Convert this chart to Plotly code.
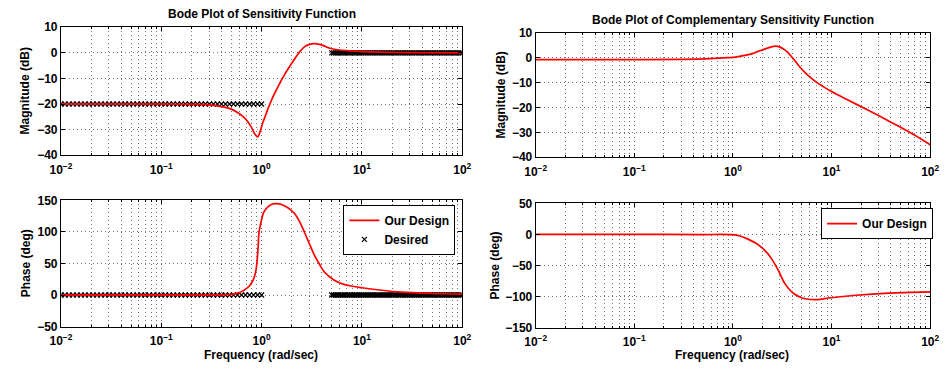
import numpy as np
import plotly.graph_objects as go

# ---------------- data ----------------
# Sensitivity function S: magnitude (dB)
s_mag_w = [0.01, 0.05, 0.1, 0.2, 0.3, 0.4, 0.5, 0.57, 0.65, 0.72, 0.79, 0.85, 0.914,
           0.965, 1.03, 1.09, 1.15, 1.22, 1.29, 1.37, 1.53, 1.71, 1.92, 2.15, 2.4,
           2.69, 3.0, 3.36, 3.8, 4.2, 4.7, 5.7, 8.3, 10, 15, 30, 100]
s_mag_db = [-20, -20, -20.05, -20.15, -20.3, -21.0, -22.0, -23.2, -24.8, -26.6, -29.0,
            -31.5, -32.8, -30.8, -27.2, -24.7, -22.1, -19.7, -17.4, -15.3, -11.6,
            -8.2, -5.1, -2.2, 0.4, 2.4, 3.3, 3.6, 3.3, 2.7, 1.9, 1.2, 0.7, 0.5, 0.25,
            0.1, 0.0]

# Sensitivity function S: phase (deg)
s_ph_w = [0.01, 0.1, 0.3, 0.45, 0.52, 0.6, 0.65, 0.7, 0.75, 0.8, 0.84, 0.88, 0.905,
          0.925, 0.94, 0.96, 0.98, 1.01, 1.05, 1.1, 1.18, 1.27, 1.37, 1.5, 1.72, 1.92,
          2.14, 2.4, 2.7, 3.0, 3.37, 3.8, 4.2, 5.26, 6.6, 8.0, 10, 15, 25, 50, 100]
s_ph_deg = [0, 0, 0.2, 0.8, 1.5, 3.8, 6.6, 9.8, 14, 20, 27, 40, 57, 78, 98, 107, 113,
            123, 131, 136, 141, 144, 145, 144.5, 141, 136, 129, 116, 98, 81, 63, 48,
            37, 24, 17, 14, 11.6, 8, 4.5, 2.5, 1.5]

# Complementary sensitivity T: magnitude (dB)
t_mag_w = [0.01, 0.1, 0.3, 0.6, 0.8, 1.0, 1.2, 1.4, 1.6, 1.8, 2.0, 2.2, 2.4, 2.6,
           2.72, 2.85, 3.0, 3.3, 3.56, 4.0, 4.4, 4.82, 5.5, 6.2, 7.06, 8.4, 10, 15,
           22, 33, 47, 70, 100]
t_mag_db = [-0.7, -0.7, -0.6, -0.3, 0.0, 0.2, 0.7, 1.2, 1.8, 2.6, 3.2, 3.8, 4.3,
            4.62, 4.7, 4.6, 4.3, 3.4, 2.36, 0.1, -1.9, -3.9, -6.3, -8.1, -9.9,
            -11.8, -13.6, -17.2, -20.5, -24.1, -27.4, -31.2, -35.0]

# Complementary sensitivity T: phase (deg)
t_ph_w = [0.01, 0.1, 0.5, 0.98, 1.2, 1.44, 1.7, 1.95, 2.2, 2.46, 2.87, 3.33, 3.8,
          4.2, 4.9, 5.6, 7.1, 9.8, 17.7, 38, 100]
t_ph_deg = [0, 0, -0.2, -0.5, -3, -8, -14, -21, -29, -39, -57, -78, -90, -96,
            -101.5, -104, -105, -102, -98, -94.6, -92.5]

# Desired specification (frequency grids and target levels)
des_low_w = list(np.logspace(-2, 0, 51))
des_high_w = list(np.logspace(np.log10(5), 2, 75))
des_low_mag = [-20] * len(des_low_w)
des_high_mag = [0] * len(des_high_w)
des_low_ph = [0] * len(des_low_w)
des_high_ph = [0] * len(des_high_w)

x_tickvals = [0.01, 0.1, 1, 10, 100]
x_ticktext = ["<b>10<sup>−2</sup></b>", "<b>10<sup>−1</sup></b>", "<b>10<sup>0</sup></b>",
              "<b>10<sup>1</sup></b>", "<b>10<sup>2</sup></b>"]
minor_vals = [m * d for d in [0.01, 0.1, 1, 10] for m in range(2, 10)]
mag_ticks = [-40, -30, -20, -10, 0, 10]
sph_ticks = [-50, 0, 50, 100, 150]
tph_ticks = [-150, -100, -50, 0, 50]

# ---------------- styling ----------------
FONT = "Liberation Sans"
RED = "#ff0000"
GRID = "rgba(0,0,0,0.55)"
DOT = "1px,3px"

def lab(v):
    return "<b>" + ("−" + str(-v) if v < 0 else str(v)) + "</b>"

fig = go.Figure()

def desired(x, y, axx, axy, show):
    fig.add_trace(go.Scatter(
        x=x, y=y, xaxis=axx, yaxis=axy, mode="markers", name="<b>Desired</b>",
        marker=dict(symbol="x-thin", size=5, color="black",
                    line=dict(width=1.2, color="black")),
        showlegend=show, legend="legend", legendrank=2))

LINE = dict(color=RED, width=1.7, shape="spline", smoothing=0.9)

# top-left magnitude S
desired(des_low_w, des_low_mag, "x", "y", False)
desired(des_high_w, des_high_mag, "x", "y", False)
fig.add_trace(go.Scatter(x=s_mag_w, y=s_mag_db, xaxis="x", yaxis="y", mode="lines",
                         line=LINE, showlegend=False))
# bottom-left phase S
desired(des_low_w, des_low_ph, "x2", "y2", True)
desired(des_high_w, des_high_ph, "x2", "y2", False)
fig.add_trace(go.Scatter(x=s_ph_w, y=s_ph_deg, xaxis="x2", yaxis="y2", mode="lines",
                         name="<b>Our Design</b>", line=LINE,
                         showlegend=True, legend="legend", legendrank=1))
# top-right magnitude T
fig.add_trace(go.Scatter(x=t_mag_w, y=t_mag_db, xaxis="x3", yaxis="y3", mode="lines",
                         line=LINE, showlegend=False))
# bottom-right phase T
fig.add_trace(go.Scatter(x=t_ph_w, y=t_ph_deg, xaxis="x4", yaxis="y4", mode="lines",
                         name="<b>Our Design</b>", line=LINE,
                         showlegend=True, legend="legend2"))

tickfont = dict(family=FONT, size=12, color="black")

def xaxis(domain, anchor):
    return dict(type="log", range=[-2, 2], domain=domain, anchor=anchor,
                tickmode="array", tickvals=x_tickvals, ticktext=x_ticktext,
                ticks="inside", ticklen=4, tickcolor="black", mirror="allticks",
                showline=True, linecolor="black", linewidth=1,
                showgrid=True, gridcolor=GRID, griddash=DOT, gridwidth=1,
                zeroline=False, tickfont=tickfont, ticklabelstandoff=3,
                minor=dict(tickmode="array", tickvals=minor_vals, ticks="inside",
                           ticklen=2, tickcolor="black", showgrid=True,
                           gridcolor=GRID, griddash=DOT, gridwidth=1))

def yaxis(domain, anchor, rng, ticks):
    return dict(range=rng, domain=domain, anchor=anchor,
                tickmode="array", tickvals=ticks, ticktext=[lab(v) for v in ticks],
                ticks="inside", ticklen=4, tickcolor="black", mirror="allticks",
                showline=True, linecolor="black", linewidth=1,
                showgrid=True, gridcolor=GRID, griddash=DOT, gridwidth=1,
                zeroline=False, tickfont=tickfont)

LX = [51 / 946, 461 / 946]
RX = [536 / 946, 939 / 946]
legfont = dict(family=FONT, size=12, color="black")
fig.update_layout(
    width=946, height=374,
    margin=dict(l=0, r=0, t=0, b=0),
    paper_bgcolor="white", plot_bgcolor="white",
    font=dict(family=FONT, size=12, color="black"),
    xaxis=xaxis(LX, "y"),
    yaxis=yaxis([1 - 154 / 374, 1 - 21 / 374], "x", [-40, 10], mag_ticks),
    xaxis2=xaxis(LX, "y2"),
    yaxis2=yaxis([1 - 332 / 374, 1 - 201 / 374], "x2", [-50, 150], sph_ticks),
    xaxis3=xaxis(RX, "y3"),
    yaxis3=yaxis([1 - 156 / 374, 1 - 27 / 374], "x3", [-40, 10], mag_ticks),
    xaxis4=xaxis(RX, "y4"),
    yaxis4=yaxis([1 - 333 / 374, 1 - 204 / 374], "x4", [-150, 50], tph_ticks),
    legend=dict(x=454 / 946, y=1 - 205.5 / 374, xanchor="right", yanchor="top",
                bgcolor="white", bordercolor="black", borderwidth=1,
                font=legfont, tracegroupgap=0, itemwidth=30),
    legend2=dict(x=942 / 946, y=1 - 209 / 374, xanchor="right", yanchor="top",
                 bgcolor="white", bordercolor="black", borderwidth=1,
                 font=legfont, itemwidth=30),
    showlegend=True,
)

ann_font = dict(family=FONT, size=12, color="black")
def ann(text, x, y, angle=0):
    fig.add_annotation(text="<b>" + text + "</b>", x=x / 946, y=1 - y / 374,
                       xref="paper", yref="paper", showarrow=False, textangle=angle,
                       font=ann_font, xanchor="center", yanchor="middle")

ann("Bode Plot of Sensitivity Function", 256, 7.5)
ann("Bode Plot of Complementary Sensitivity Function", 737.5, 13.5)
ann("Magnitude (dB)", 14.5, 87.5, -90)
ann("Phase (deg)", 15, 266.5, -90)
ann("Magnitude (dB)", 501, 91.5, -90)
ann("Phase (deg)", 494.5, 268.5, -90)
ann("Frequency (rad/sec)", 255, 361.5)
ann("Frequency (rad/sec)", 737, 361.5)

fig.write_html("out.html")
